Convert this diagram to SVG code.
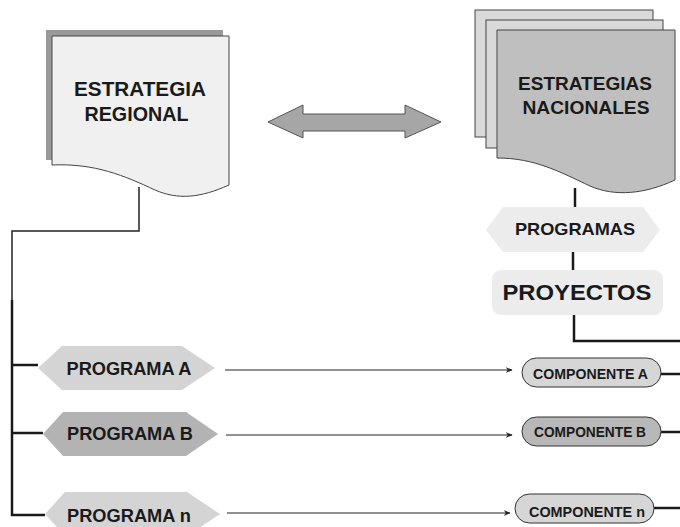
<svg xmlns="http://www.w3.org/2000/svg" width="680" height="527" viewBox="0 0 680 527">
<defs>
<style>
text{font-family:"Liberation Sans",Arial,sans-serif;font-weight:bold;fill:#1a1a1a;text-anchor:middle}
.doc{stroke:#444;stroke-width:1}
.thin{fill:none;stroke:#222;stroke-width:1.5}
.thick{fill:none;stroke:#1a1a1a;stroke-width:2.5}
.arr{fill:none;stroke:#222;stroke-width:1}
.pill{stroke:#333;stroke-width:1}
</style>
<marker id="ah" viewBox="0 0 10 10" refX="9" refY="5" markerWidth="7" markerHeight="7" markerUnits="userSpaceOnUse" orient="auto">
<path d="M0,1 L10,5 L0,9 L3,5 Z" fill="#222"/>
</marker>
</defs>
<rect width="680" height="527" fill="#fff"/>

<g id="connectors">
<polyline class="thin" points="139,187 139,231 12,231 12,300"/>
<polyline class="thick" points="12,300 12,515 45,515"/>
<line class="thick" x1="12" y1="365" x2="38" y2="365"/>
<line class="thick" x1="12" y1="433" x2="43" y2="433"/>
<line class="thick" x1="575" y1="188" x2="575" y2="207"/>
<line class="thick" x1="573" y1="252" x2="573" y2="270"/>
<polyline class="thick" points="574,315 574,341 680,341"/>
<line class="arr" x1="225" y1="370" x2="512" y2="370" marker-end="url(#ah)"/>
<line class="arr" x1="226" y1="435" x2="512" y2="435" marker-end="url(#ah)"/>
<line class="arr" x1="227" y1="513" x2="510" y2="513" marker-end="url(#ah)"/>
<line class="thick" x1="661" y1="374" x2="680" y2="374"/>
<line class="thick" x1="661" y1="432" x2="680" y2="432"/>
<line class="thick" x1="654" y1="508" x2="680" y2="508"/>
</g>

<g id="estrategia-regional">
<rect x="46" y="30" width="177" height="130" fill="#999"/>
<path class="doc" d="M52,36 H229 V185 C200,198 178,200 155,190 C125,176 95,163 52,165 Z" fill="#f0f0f0"/>
<text x="140" y="96" font-size="19.5" textLength="132" lengthAdjust="spacingAndGlyphs">ESTRATEGIA</text>
<text x="136.5" y="121" font-size="19.5" textLength="104" lengthAdjust="spacingAndGlyphs">REGIONAL</text>
</g>

<g id="double-arrow">
<polygon points="268,122 303,105 303,114 405,114 405,105 441,122 405,138 405,131 303,131 303,138" fill="#a6a6a6" stroke="#555" stroke-width="1"/>
</g>

<g id="estrategias-nacionales">
<rect class="doc" x="475" y="10" width="178" height="127" fill="#d9d9d9"/>
<rect class="doc" x="486" y="20" width="177" height="128" fill="#d9d9d9"/>
<path class="doc" d="M497,30 H675 V180 C645,194 615,197 590,186 C560,172 535,158 497,158 Z" fill="#bfbfbf"/>
<text x="585" y="90" font-size="18" textLength="134" lengthAdjust="spacingAndGlyphs">ESTRATEGIAS</text>
<text x="586" y="114" font-size="18" textLength="127" lengthAdjust="spacingAndGlyphs">NACIONALES</text>
</g>

<g id="programas">
<polygon points="486,230 503,207 643,207 660,230 643,252 503,252" fill="#ececec"/>
<text x="575" y="235" font-size="17" textLength="120" lengthAdjust="spacingAndGlyphs">PROGRAMAS</text>
</g>

<g id="proyectos">
<rect x="492" y="270" width="171" height="45" rx="9" fill="#ececec"/>
<text x="577" y="300" font-size="21.5" textLength="149" lengthAdjust="spacingAndGlyphs">PROYECTOS</text>
</g>

<g id="programa-a">
<polygon points="38,368 62,346 182,346 215,368 182,390 62,390" fill="#d4d4d4"/>
<text x="129" y="375" font-size="17.5" textLength="125" lengthAdjust="spacingAndGlyphs">PROGRAMA A</text>
</g>

<g id="programa-b">
<polygon points="43,434 63,412 186,412 218,434 186,456 63,456" fill="#b3b3b3"/>
<text x="130" y="440" font-size="17.5" textLength="126" lengthAdjust="spacingAndGlyphs">PROGRAMA B</text>
</g>

<g id="programa-n">
<polygon points="45,514 65,492 187,492 220,514 187,536 65,536" fill="#d4d4d4"/>
<text x="129" y="522" font-size="17.5" textLength="124" lengthAdjust="spacingAndGlyphs">PROGRAMA n</text>
</g>

<g id="componente-a">
<rect class="pill" x="522" y="358" width="139" height="29" rx="14.5" fill="#d6d6d6"/>
<text x="590.5" y="379" font-size="15" textLength="115" lengthAdjust="spacingAndGlyphs">COMPONENTE A</text>
</g>

<g id="componente-b">
<rect class="pill" x="522" y="417" width="139" height="29" rx="14.5" fill="#b8b8b8"/>
<text x="590" y="437" font-size="15" textLength="112" lengthAdjust="spacingAndGlyphs">COMPONENTE B</text>
</g>

<g id="componente-n">
<rect class="pill" x="515" y="494" width="139" height="29" rx="14.5" fill="#d6d6d6"/>
<text x="587" y="517" font-size="15" textLength="116" lengthAdjust="spacingAndGlyphs">COMPONENTE n</text>
</g>
</svg>
